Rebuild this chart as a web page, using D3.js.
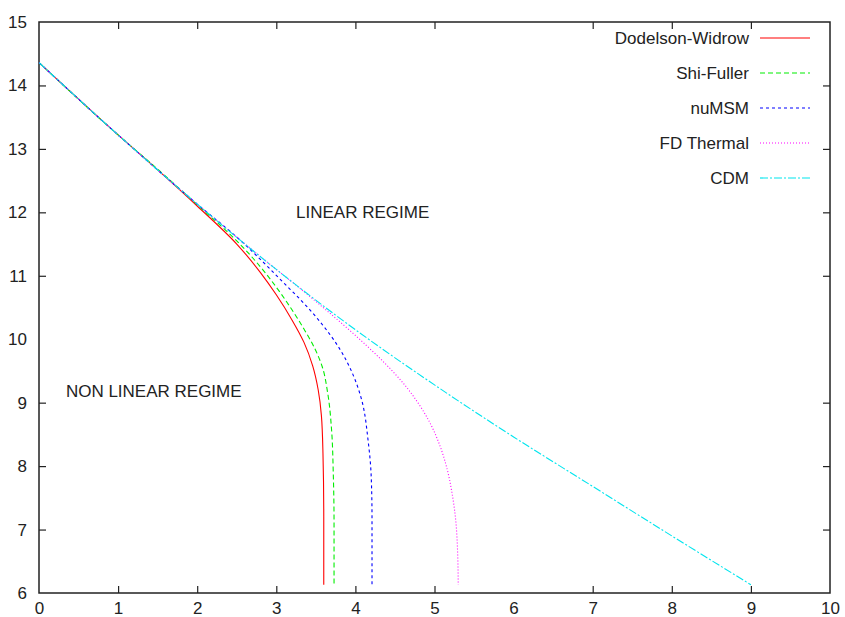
<!DOCTYPE html>
<html>
<head>
<meta charset="utf-8">
<script src="https://cdn.jsdelivr.net/npm/d3@7"></script>
<style>
  body { margin: 0; background: #fff; }
  svg { display: block; font-family: "Liberation Sans", Arial, sans-serif; }
  .axis text { font-size: 17px; fill: #222; }
  .axis line { stroke: #222; stroke-width: 1.2; }
  .axis path { display: none; }
</style>
</head>
<body>
<div id="chart"></div>
<script>
// --- data ---
const xTicks = [0, 1, 2, 3, 4, 5, 6, 7, 8, 9, 10];
const yTicks = [6, 7, 8, 9, 10, 11, 12, 13, 14, 15];

const seriesNames = ["Dodelson-Widrow", "Shi-Fuller", "nuMSM", "FD Thermal", "CDM"];

const dwX = [0, 1, 1.5, 2, 2.5, 2.8, 3.0, 3.2, 3.35, 3.46, 3.53, 3.57, 3.59, 3.60, 3.60];
const dwY = [14.36, 13.22, 12.67, 12.10, 11.50, 11.05, 10.70, 10.30, 9.95, 9.58, 9.20, 8.80, 8.20, 7.20, 6.13];

const sfX = [0, 1, 1.5, 2, 2.5, 2.8, 3.0, 3.2, 3.35, 3.48, 3.58, 3.65, 3.70, 3.72, 3.73, 3.73];
const sfY = [14.36, 13.22, 12.68, 12.12, 11.55, 11.14, 10.82, 10.46, 10.16, 9.87, 9.57, 9.15, 8.55, 7.90, 7.10, 6.13];

const numsmX = [0, 1, 2, 2.5, 2.83, 3.1, 3.3, 3.55, 3.81, 3.96, 4.08, 4.16, 4.20, 4.21, 4.21];
const numsmY = [14.36, 13.22, 12.13, 11.61, 11.22, 10.88, 10.63, 10.28, 9.83, 9.47, 9.04, 8.41, 7.83, 7.18, 6.13];

const fdX = [0, 1, 2, 3, 3.32, 3.78, 4.14, 4.39, 4.61, 4.79, 4.935, 5.06, 5.16, 5.225, 5.268, 5.292, 5.30];
const fdY = [14.36, 13.22, 12.13, 11.10, 10.78, 10.30, 9.90, 9.60, 9.30, 9.00, 8.70, 8.35, 7.95, 7.55, 7.15, 6.65, 6.13];

const cdmX = [0, 1, 2, 3, 4, 5, 6, 7, 8, 9];
const cdmY = [14.36, 13.22, 12.13, 11.10, 10.15, 9.28, 8.46, 7.68, 6.90, 6.13];

const labelText = ["LINEAR REGIME", "NON LINEAR REGIME"];
const labelX = [3.25, 0.34];
const labelY = [12.0, 9.18];

// --- styles ---
const colors = ["#ff0000", "#00ee00", "#0000ff", "#ff00ff", "#00e5ee"];
const dashes = [null, "5,3", "3,3", "1,2", "8,2,2,2"];

// --- layout ---
const width = 845;
const height = 617;
const margin = { top: 22, right: 15, bottom: 24, left: 39 };

const svg = d3.select("#chart").append("svg")
  .attr("width", width)
  .attr("height", height);

const x = d3.scaleLinear().domain([0, 10]).range([margin.left, width - margin.right]);
const y = d3.scaleLinear().domain([6, 15]).range([height - margin.bottom, margin.top]);

// axes, ticks pointing inward on all four sides
svg.append("g").attr("class", "axis")
  .attr("transform", `translate(0,${y(6)})`)
  .call(d3.axisBottom(x).tickValues(xTicks).tickSizeInner(-7).tickSizeOuter(0).tickPadding(9));
svg.append("g").attr("class", "axis")
  .attr("transform", `translate(0,${y(15)})`)
  .call(d3.axisTop(x).tickValues(xTicks).tickSizeInner(-7).tickSizeOuter(0).tickFormat(""));
svg.append("g").attr("class", "axis")
  .attr("transform", `translate(${x(0)},0)`)
  .call(d3.axisLeft(y).tickValues(yTicks).tickSizeInner(-7).tickSizeOuter(0).tickPadding(12));
svg.append("g").attr("class", "axis")
  .attr("transform", `translate(${x(10)},0)`)
  .call(d3.axisRight(y).tickValues(yTicks).tickSizeInner(-7).tickSizeOuter(0).tickFormat(""));

// remove end ticks that would sit on the frame corners
svg.selectAll(".axis .tick line").filter(d => d === 0 || d === 10 || d === 6 || d === 15).remove();

// frame
svg.append("rect")
  .attr("x", x(0)).attr("y", y(15))
  .attr("width", x(10) - x(0)).attr("height", y(6) - y(15))
  .attr("fill", "none").attr("stroke", "#222").attr("stroke-width", 1.5);

// curves
const seriesX = [dwX, sfX, numsmX, fdX, cdmX];
const seriesY = [dwY, sfY, numsmY, fdY, cdmY];

const line = d3.line()
  .x(d => x(d[0]))
  .y(d => y(d[1]))
  .curve(d3.curveMonotoneY);

seriesNames.forEach((name, i) => {
  const pts = seriesX[i].map((v, j) => [v, seriesY[i][j]]);
  svg.append("path")
    .datum(pts)
    .attr("d", line)
    .attr("fill", "none")
    .attr("stroke", colors[i])
    .attr("stroke-width", 1.1)
    .attr("stroke-dasharray", dashes[i]);
});

// legend
const legend = svg.append("g");
seriesNames.forEach((name, i) => {
  const ly = 38 + i * 35;
  legend.append("text")
    .attr("x", 749).attr("y", ly)
    .attr("dy", "0.35em")
    .attr("text-anchor", "end")
    .attr("font-size", 17)
    .attr("fill", "#222")
    .text(name);
  legend.append("line")
    .attr("x1", 760).attr("x2", 810)
    .attr("y1", ly).attr("y2", ly)
    .attr("stroke", colors[i])
    .attr("stroke-width", 1.2)
    .attr("stroke-dasharray", dashes[i]);
});

// region labels
labelText.forEach((t, i) => {
  svg.append("text")
    .attr("x", x(labelX[i])).attr("y", y(labelY[i]))
    .attr("dy", "0.35em")
    .attr("font-size", 17)
    .attr("fill", "#222")
    .text(t);
});
</script>
</body>
</html>
